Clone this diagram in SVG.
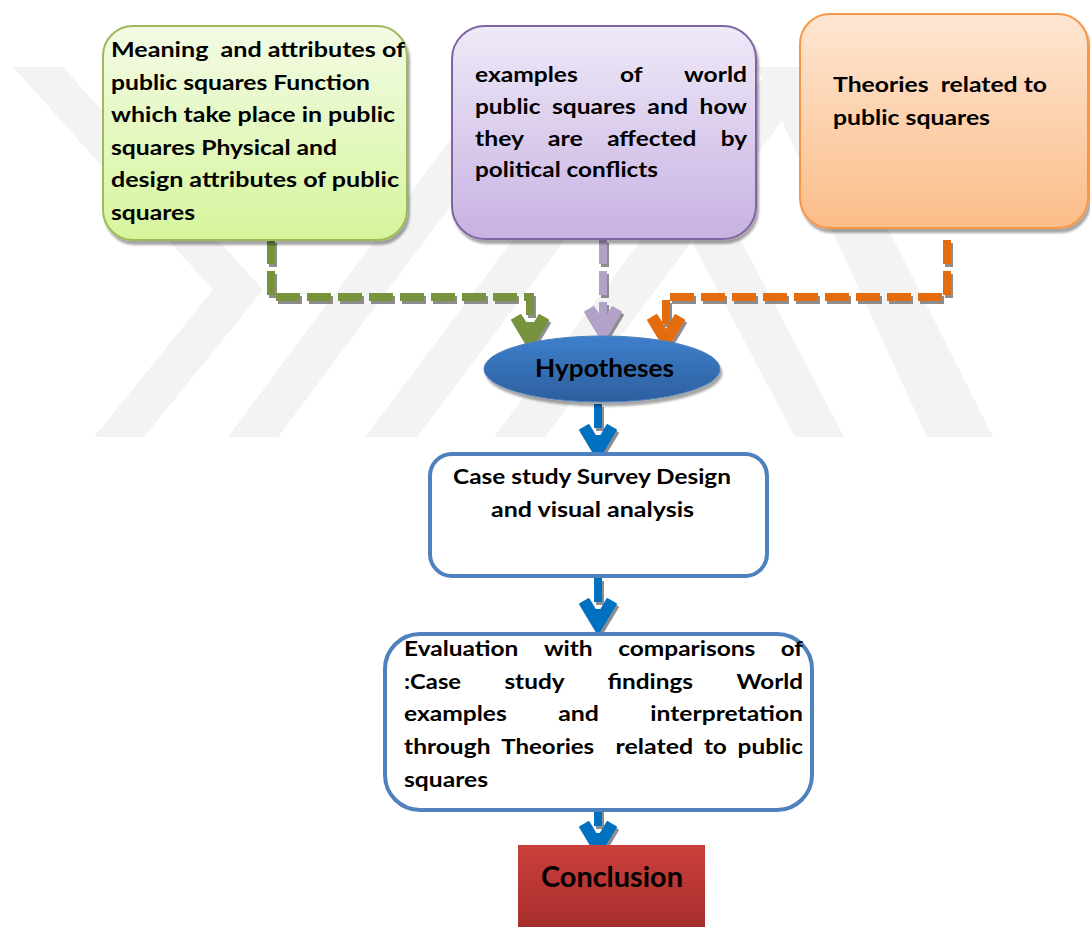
<svg xmlns="http://www.w3.org/2000/svg" width="1090" height="927" viewBox="0 0 1090 927">
<defs>
<linearGradient id="gGreen" x1="0" y1="0" x2="0" y2="1"><stop offset="0" stop-color="#f3fbe5"/><stop offset="1" stop-color="#d6f59c"/></linearGradient>
<linearGradient id="gPurple" x1="0" y1="0" x2="0" y2="1"><stop offset="0" stop-color="#efe9f8"/><stop offset="1" stop-color="#c7b2e2"/></linearGradient>
<linearGradient id="gOrange" x1="0" y1="0" x2="0" y2="1"><stop offset="0" stop-color="#fee6d3"/><stop offset="1" stop-color="#fbbd88"/></linearGradient>
<linearGradient id="gBlue" x1="0" y1="0" x2="0" y2="1"><stop offset="0" stop-color="#3e7fcb"/><stop offset="1" stop-color="#2c5f9f"/></linearGradient>
<linearGradient id="gRed" x1="0" y1="0" x2="0" y2="1"><stop offset="0" stop-color="#cb3f3b"/><stop offset="1" stop-color="#a32c2c"/></linearGradient>
<filter id="shBox" x="-10%" y="-10%" width="125%" height="130%"><feDropShadow dx="2" dy="4" stdDeviation="1.2" flood-color="#000" flood-opacity="0.35"/></filter>
<filter id="shLine" x="-20%" y="-20%" width="140%" height="140%"><feDropShadow dx="2" dy="3" stdDeviation="0.4" flood-color="#808080" flood-opacity="0.9"/></filter>
</defs>
<style>
.t{font-family:Lato,"Open Sans","Liberation Sans",sans-serif;font-weight:bold;font-size:21px;fill:#000;white-space:pre}
.box{filter:url(#shBox)}
.conn{fill:none;stroke-width:8;stroke-dasharray:24 7}
.head{stroke-width:2;stroke-linejoin:round}
.wm{fill:#f3f3f3}
</style>
<rect width="1090" height="927" fill="#fff"/>
<g id="watermark">
<polygon class="wm" points="13,67 63,67 263,290 144,437 94,437 213,290"/>
<polygon class="wm" points="228,437 278,437 555,67 505,67"/>
<polygon class="wm" points="365,437 417,437 694,67 642,67"/>
<polygon class="wm" points="494,437 545,437 822,67 771,67"/>
<polygon class="wm" points="600,67 650,67 844,437 795,437"/>
<polygon class="wm" points="757,67 807,67 993,437 927,437"/>
</g>
<g id="connectors">
<g filter="url(#shLine)">
<path class="conn" stroke="#77933c" d="M271,240 V297 H530 V330"/>
<path class="conn" stroke="#b3a2c7" d="M603,240 V322"/>
<path class="conn" stroke="#e46c0a" d="M947,240 V297 H666 V330"/>
<path class="conn" stroke="#0070c0" d="M598,404 V446"/>
<path class="conn" stroke="#0070c0" stroke-dasharray="none" d="M598,578 V618"/>
<path class="conn" stroke="#0070c0" d="M598,802 V842"/>
<polygon class="head" fill="#77933c" stroke="#77933c" points="512,320 520.6,315 530,331 539.4,315 548,320 530,350"/>
<polygon class="head" fill="#b3a2c7" stroke="#b3a2c7" points="585,312 593.6,307 603,323 612.4,307 621,312 603,342"/>
<polygon class="head" fill="#e46c0a" stroke="#e46c0a" points="648,320 656.6,315 666,331 675.4,315 684,320 666,350"/>
<polygon class="head" fill="#0070c0" stroke="#0070c0" points="580,430 588.6,425 598,441 607.4,425 616,430 598,460"/>
<polygon class="head" fill="#0070c0" stroke="#0070c0" points="580,604 588.6,599 598,615 607.4,599 616,604 598,634"/>
<polygon class="head" fill="#0070c0" stroke="#0070c0" points="580,827 588.6,822 598,838 607.4,822 616,827 598,857"/>
</g>
</g>
<g id="node-meaning">
<rect class="box" x="103" y="26" width="304" height="214" rx="30" fill="url(#gGreen)" stroke="#9bbb59" stroke-width="2"/>
<text class="t" x="111" y="57" textLength="294" lengthAdjust="spacingAndGlyphs">Meaning  and attributes of</text>
<text class="t" x="111" y="89.5" textLength="259" lengthAdjust="spacingAndGlyphs">public squares Function</text>
<text class="t" x="111" y="122" textLength="284" lengthAdjust="spacingAndGlyphs">which take place in public</text>
<text class="t" x="111" y="154.5" textLength="226" lengthAdjust="spacingAndGlyphs">squares Physical and</text>
<text class="t" x="111" y="187" textLength="288" lengthAdjust="spacingAndGlyphs">design attributes of public</text>
<text class="t" x="111" y="219.5" textLength="84" lengthAdjust="spacingAndGlyphs">squares</text>
</g>
<g id="node-examples">
<rect class="box" x="452" y="26" width="304" height="213" rx="33" fill="url(#gPurple)" stroke="#8064a2" stroke-width="2"/>
<text class="t" y="81.5"><tspan x="475" textLength="102.8" lengthAdjust="spacingAndGlyphs">examples</tspan> <tspan x="619.9" textLength="22.2" lengthAdjust="spacingAndGlyphs">of</tspan> <tspan x="684.1" textLength="62.9" lengthAdjust="spacingAndGlyphs">world</tspan></text>
<text class="t" y="113.5"><tspan x="475" textLength="65.5" lengthAdjust="spacingAndGlyphs">public</tspan> <tspan x="552" textLength="83.8" lengthAdjust="spacingAndGlyphs">squares</tspan> <tspan x="647.3" textLength="40.8" lengthAdjust="spacingAndGlyphs">and</tspan> <tspan x="699.6" textLength="47.3" lengthAdjust="spacingAndGlyphs">how</tspan></text>
<text class="t" y="145.5"><tspan x="475" textLength="48.4" lengthAdjust="spacingAndGlyphs">they</tspan> <tspan x="547.7" textLength="35.2" lengthAdjust="spacingAndGlyphs">are</tspan> <tspan x="607.2" textLength="89.3" lengthAdjust="spacingAndGlyphs">affected</tspan> <tspan x="720.8" textLength="26.3" lengthAdjust="spacingAndGlyphs">by</tspan></text>
<text class="t" x="475" y="177" textLength="183" lengthAdjust="spacingAndGlyphs">political conflicts</text>
</g>
<g id="node-theories">
<rect class="box" x="800" y="14" width="288" height="214" rx="30" fill="url(#gOrange)" stroke="#f79646" stroke-width="2"/>
<text class="t" x="833" y="91.7" textLength="214" lengthAdjust="spacingAndGlyphs">Theories  related to</text>
<text class="t" x="833" y="125" textLength="157" lengthAdjust="spacingAndGlyphs">public squares</text>
</g>
<g id="node-hypotheses">
<ellipse class="box" cx="602" cy="369" rx="118" ry="33" fill="url(#gBlue)" stroke="#4a7ebb" stroke-width="1"/>
<text class="t" x="535" y="377" textLength="139" lengthAdjust="spacingAndGlyphs" style="font-size:24px">Hypotheses</text>
</g>
<g id="node-case">
<rect x="430" y="454" width="337" height="122" rx="22" fill="#fff" stroke="#4f81bd" stroke-width="4"/>
<text class="t" x="453" y="484" textLength="278" lengthAdjust="spacingAndGlyphs">Case study Survey Design</text>
<text class="t" x="491" y="517" textLength="203" lengthAdjust="spacingAndGlyphs">and visual analysis</text>
</g>
<g id="node-evaluation">
<rect x="385" y="634" width="427" height="176" rx="35" fill="#fff" stroke="#4f81bd" stroke-width="4"/>
<text class="t" y="656"><tspan x="404" textLength="114.4" lengthAdjust="spacingAndGlyphs">Evaluation</tspan> <tspan x="543.9" textLength="48.8" lengthAdjust="spacingAndGlyphs">with</tspan> <tspan x="618.2" textLength="137.1" lengthAdjust="spacingAndGlyphs">comparisons</tspan> <tspan x="780.8" textLength="22.2" lengthAdjust="spacingAndGlyphs">of</tspan></text>
<text class="t" y="689"><tspan x="404" textLength="57" lengthAdjust="spacingAndGlyphs">:Case</tspan> <tspan x="504.4" textLength="59.6" lengthAdjust="spacingAndGlyphs">study</tspan> <tspan x="607.4" textLength="85.6" lengthAdjust="spacingAndGlyphs">findings</tspan> <tspan x="736.4" textLength="66.6" lengthAdjust="spacingAndGlyphs">World</tspan></text>
<text class="t" y="721"><tspan x="404" textLength="102.8" lengthAdjust="spacingAndGlyphs">examples</tspan> <tspan x="558.2" textLength="40.8" lengthAdjust="spacingAndGlyphs">and</tspan> <tspan x="650.3" textLength="152.7" lengthAdjust="spacingAndGlyphs">interpretation</tspan></text>
<text class="t" y="754"><tspan x="404" textLength="86.5" lengthAdjust="spacingAndGlyphs">through</tspan> <tspan x="501.2" textLength="93" lengthAdjust="spacingAndGlyphs">Theories</tspan>  <tspan x="615.6" textLength="77.6" lengthAdjust="spacingAndGlyphs">related</tspan> <tspan x="703.9" textLength="23" lengthAdjust="spacingAndGlyphs">to</tspan> <tspan x="737.6" textLength="65.4" lengthAdjust="spacingAndGlyphs">public</tspan></text>
<text class="t" x="404" y="787" textLength="84" lengthAdjust="spacingAndGlyphs">squares</text>
</g>
<g id="node-conclusion">
<rect x="518" y="845" width="187" height="90" fill="url(#gRed)"/>
<text class="t" x="541" y="887" textLength="142" lengthAdjust="spacingAndGlyphs" style="font-size:28px">Conclusion</text>
</g>
</svg>
